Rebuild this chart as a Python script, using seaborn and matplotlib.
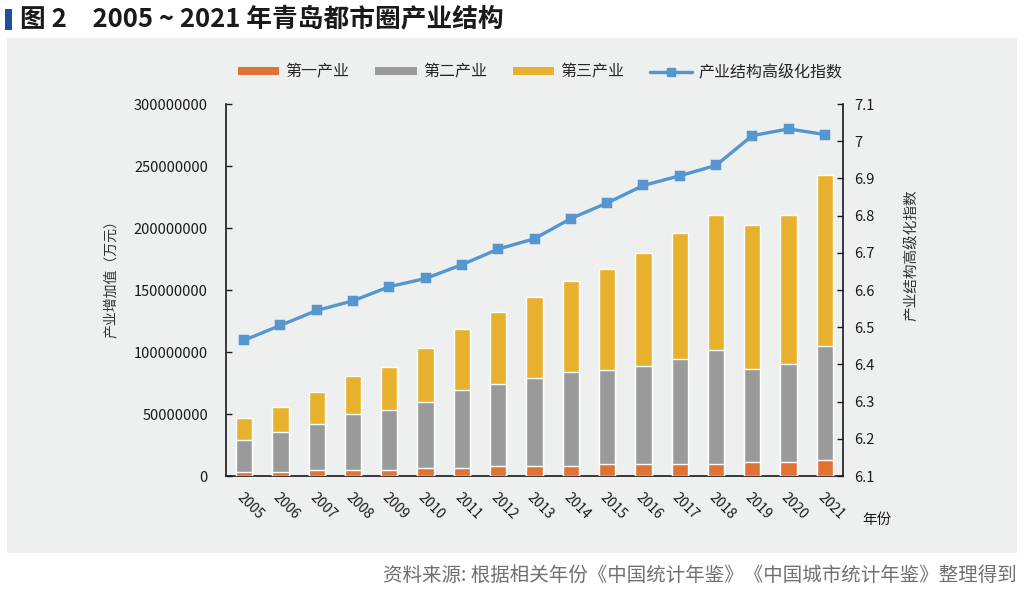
import numpy as np
import pandas as pd
import matplotlib
matplotlib.use("Agg")
import matplotlib.pyplot as plt
from matplotlib.patches import Rectangle, Patch
from matplotlib.lines import Line2D
import seaborn as sns

sns.set_theme(style="white")
plt.rcParams['font.family'] = ['Noto Sans CJK SC', 'DejaVu Sans']

years = [str(y) for y in range(2005, 2022)]
# 万元
primary = [3.5e6, 3.5e6, 5.0e6, 5.0e6, 5.0e6, 6.7e6, 6.7e6, 8.3e6, 8.3e6, 8.3e6,
           9.9e6, 9.9e6, 9.9e6, 9.9e6, 11.5e6, 11.5e6, 13.1e6]
secondary = [25.5e6, 31.9e6, 37.0e6, 45.0e6, 48.4e6, 52.8e6, 62.5e6, 66.0e6, 70.5e6, 75.7e6,
             75.4e6, 78.6e6, 84.8e6, 91.5e6, 75.1e6, 78.6e6, 91.5e6]
tertiary = [17.4e6, 20.6e6, 25.6e6, 30.4e6, 34.8e6, 43.5e6, 49.6e6, 57.7e6, 65.8e6, 73.4e6,
            81.5e6, 91.5e6, 101.0e6, 109.1e6, 115.9e6, 120.4e6, 137.8e6]
index_vals = [6.465, 6.505, 6.545, 6.571, 6.609, 6.631, 6.668, 6.710, 6.738, 6.792,
              6.834, 6.881, 6.907, 6.935, 7.015, 7.033, 7.018]

legend_labels = ['第一产业', '第二产业', '第三产业', '产业结构高级化指数']
c1, c2, c3, cl = '#e07234', '#9a9a9a', '#e8b12d', '#5596cf'

df = pd.DataFrame({'year': years, 'p': primary, 's': secondary, 't': tertiary, 'idx': index_vals})
df['cum2'] = df['p'] + df['s']
df['cum3'] = df['cum2'] + df['t']

fig = plt.figure(figsize=(10.24, 5.89), dpi=100)
fig.patch.set_facecolor('white')
# light panel
fig.patches.append(Rectangle((7/1024, 1-553/589), 1010/1024, 515/589, transform=fig.transFigure,
                             facecolor='#eef0ef', edgecolor='none', zorder=-10))
# title bar
fig.patches.append(Rectangle((5/1024, 1-30/589), 7/1024, 21/589, transform=fig.transFigure,
                             facecolor='#1f4e9a', edgecolor='none', zorder=1))
fig.text(20/1024, 1-19/589, '图 2　2005 ~ 2021 年青岛都市圈产业结构', fontsize=18.5, fontweight='bold',
         color='#1a1a1a', ha='left', va='center')
fig.text(1017/1024, 1-575/589, '资料来源: 根据相关年份《中国统计年鉴》《中国城市统计年鉴》整理得到',
         fontsize=14, color='#707070', ha='right', va='center')

ax = fig.add_axes([226/1024, 1-476/589, (843-226)/1024, (476-104)/589])
ax.set_facecolor('none')

sns.barplot(data=df, x='year', y='cum3', color=c3, width=0.45, saturation=1, ax=ax, zorder=2)
sns.barplot(data=df, x='year', y='cum2', color=c2, width=0.45, saturation=1, ax=ax, zorder=3)
sns.barplot(data=df, x='year', y='p', color=c1, width=0.45, saturation=1, ax=ax, zorder=4)

ax.set_ylim(0, 300000000)
ax.set_yticks(np.arange(0, 300000001, 50000000))
ax.set_yticklabels([f'{int(v)}' for v in np.arange(0, 300000001, 50000000)])
ax.set_xlim(-0.5, len(years) - 0.5)
ax.set_xlabel('')
ax.set_ylabel('产业增加值（万元）', fontsize=10, color='#333333')
ax.yaxis.set_label_coords(-0.175, 0.54)
for lab in ax.get_xticklabels():
    lab.set_rotation(-45)
    lab.set_ha('left')
    lab.set_rotation_mode('anchor')
ax.tick_params(axis='x', length=0, labelsize=10, colors='#1a1a1a', pad=10)
ax.tick_params(axis='y', direction='in', length=4, width=1, labelsize=10.5, colors='#1a1a1a', pad=13)
for s in ['left', 'bottom']:
    ax.spines[s].set_color('#1a1a1a')
    ax.spines[s].set_linewidth(1.2)
ax.spines['top'].set_visible(False)
ax.spines['right'].set_visible(False)

ax2 = ax.twinx()
sns.pointplot(data=df, x='year', y='idx', color=cl, markers='s', markersize=6,
              linewidth=2.4, ax=ax2, zorder=5)
ax2.set_ylim(6.1, 7.1)
ax2.set_yticks(np.round(np.arange(6.1, 7.101, 0.1), 1))
ax2.set_yticklabels([f'{v:g}' for v in np.round(np.arange(6.1, 7.101, 0.1), 1)])
ax2.set_xlim(-0.5, len(years) - 0.5)
ax2.set_xlabel('')
ax2.set_ylabel('产业结构高级化指数', fontsize=10.5, color='#333333', rotation=90)
ax2.yaxis.set_label_coords(1.10, 0.594)
ax2.tick_params(axis='y', direction='in', length=4, width=1, labelsize=10.5, colors='#1a1a1a', pad=8)
ax2.spines['right'].set_color('#1a1a1a')
ax2.spines['right'].set_linewidth(1.2)
for s in ['left', 'top', 'bottom']:
    ax2.spines[s].set_visible(False)

fig.text(862/1024, 1-520/589, '年份', fontsize=10.5, color='#1a1a1a', ha='left', va='center')

handles = [Patch(facecolor=c1, edgecolor='none'),
           Patch(facecolor=c2, edgecolor='none'),
           Patch(facecolor=c3, edgecolor='none'),
           Line2D([0], [0], color=cl, lw=2.5, marker='s', markersize=5.5)]
fig.legend(handles, legend_labels, loc='center', bbox_to_anchor=(540/1024, 1-72/589), ncol=4,
           frameon=False, fontsize=11.5, handlelength=2.6, handleheight=0.45, columnspacing=1.6,
           handletextpad=0.4)

fig.savefig('out.png', dpi=100, facecolor='white')
